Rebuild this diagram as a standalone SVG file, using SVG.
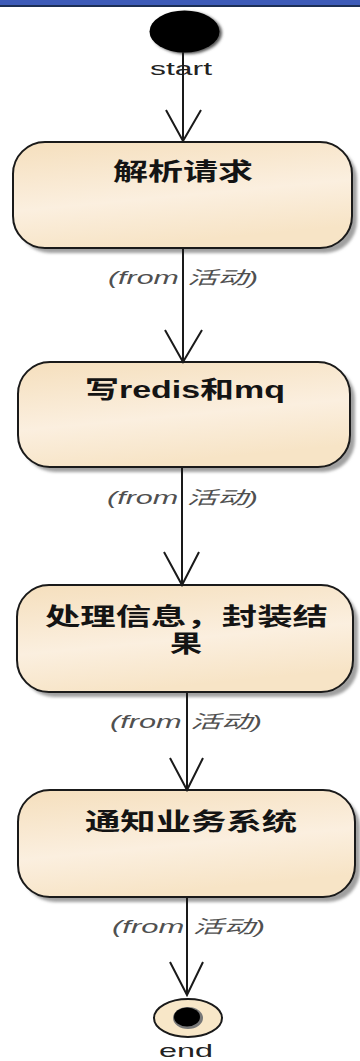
<svg xmlns="http://www.w3.org/2000/svg" width="360" height="1061" viewBox="0 0 360 1061">
<style>
.box{stroke:#1a1a1a;stroke-width:2;fill:url(#g)}
.sh{fill:#a0a0a0;filter:url(#blur)}
.t{font-family:"Liberation Sans","Noto Sans CJK SC",sans-serif;font-weight:bold;font-size:24px;fill:#141414}
.f{font-family:"Liberation Sans","Noto Sans CJK SC",sans-serif;font-style:italic;font-size:18px;fill:#505050}
.lbl{font-family:"Liberation Sans",sans-serif;font-size:19px;fill:#222}
.c{stroke:#1a1a1a;stroke-width:2;fill:none}
</style>
<defs>
<linearGradient id="g" x1="0" y1="0" x2="0.3" y2="1">
<stop offset="0" stop-color="#f5dfbd"/>
<stop offset="0.6" stop-color="#fbefdf"/>
<stop offset="1" stop-color="#f7e4c6"/>
</linearGradient>
<filter id="blur" x="-5%" y="-5%" width="110%" height="120%"><feGaussianBlur stdDeviation="1.5"/></filter>
</defs>
<rect x="0" y="0" width="360" height="5" fill="#3d5bb8"/>
<rect x="0" y="5" width="360" height="2" fill="#1c2f55"/>

<g id="start">
<ellipse cx="187" cy="33" rx="35" ry="21" fill="#555" filter="url(#blur)"/>
<ellipse cx="184.5" cy="31.5" rx="35" ry="21" fill="#000"/>
<text class="lbl" x="150" y="75" textLength="62" lengthAdjust="spacingAndGlyphs">start</text>
</g>

<g id="n1">
<rect class="sh" x="18" y="147" width="339" height="106" rx="32"/>
<rect class="box" x="13" y="142" width="339" height="106" rx="32"/>
<text class="t" x="113" y="180" textLength="140" lengthAdjust="spacingAndGlyphs">解析请求</text>
<text class="f" x="108" y="284" textLength="150" lengthAdjust="spacingAndGlyphs">(from 活动)</text>
</g>

<g id="n2">
<rect class="sh" x="23" y="367" width="332" height="105" rx="32"/>
<rect class="box" x="18" y="362" width="332" height="105" rx="32"/>
<text class="t" x="85" y="398" textLength="200" lengthAdjust="spacingAndGlyphs">写redis和mq</text>
<text class="f" x="107" y="504" textLength="151" lengthAdjust="spacingAndGlyphs">(from 活动)</text>
</g>

<g id="n3">
<rect class="sh" x="22" y="590" width="336" height="107" rx="32"/>
<rect class="box" x="17" y="585" width="336" height="107" rx="32"/>
<text class="t" x="45" y="625" textLength="283" lengthAdjust="spacingAndGlyphs">处理信息，封装结</text>
<text class="t" x="170" y="652" textLength="32" lengthAdjust="spacingAndGlyphs">果</text>
<text class="f" x="110" y="728" textLength="152" lengthAdjust="spacingAndGlyphs">(from 活动)</text>
</g>

<g id="n4">
<rect class="sh" x="23" y="795" width="337" height="107" rx="32"/>
<rect class="box" x="18" y="790" width="337" height="107" rx="32"/>
<text class="t" x="85" y="830" textLength="212" lengthAdjust="spacingAndGlyphs">通知业务系统</text>
<text class="f" x="112" y="933" textLength="153" lengthAdjust="spacingAndGlyphs">(from 活动)</text>
</g>

<g id="end">
<ellipse cx="188" cy="1018" rx="34" ry="19" fill="#f8e7c8" stroke="#1a1a1a" stroke-width="2"/>
<ellipse cx="188" cy="1018" rx="15" ry="11" fill="#777"/>
<ellipse cx="187" cy="1017" rx="13" ry="9.5" fill="#000"/>
<text class="lbl" x="159" y="1057" textLength="54" lengthAdjust="spacingAndGlyphs">end</text>
</g>

<g id="connectors">
<path class="c" d="M183 52 V141 M166 110 L183 141 L201 110"/>
<path class="c" d="M183 248 V362 M165 330 L183 362 L202 330"/>
<path class="c" d="M182 467 V585 M164 552 L182 585 L199 552"/>
<path class="c" d="M187 692 V790 M170 758 L187 790 L203 758"/>
<path class="c" d="M187 897 V995 M170 962 L187 995 L203 962"/>
</g>
</svg>
